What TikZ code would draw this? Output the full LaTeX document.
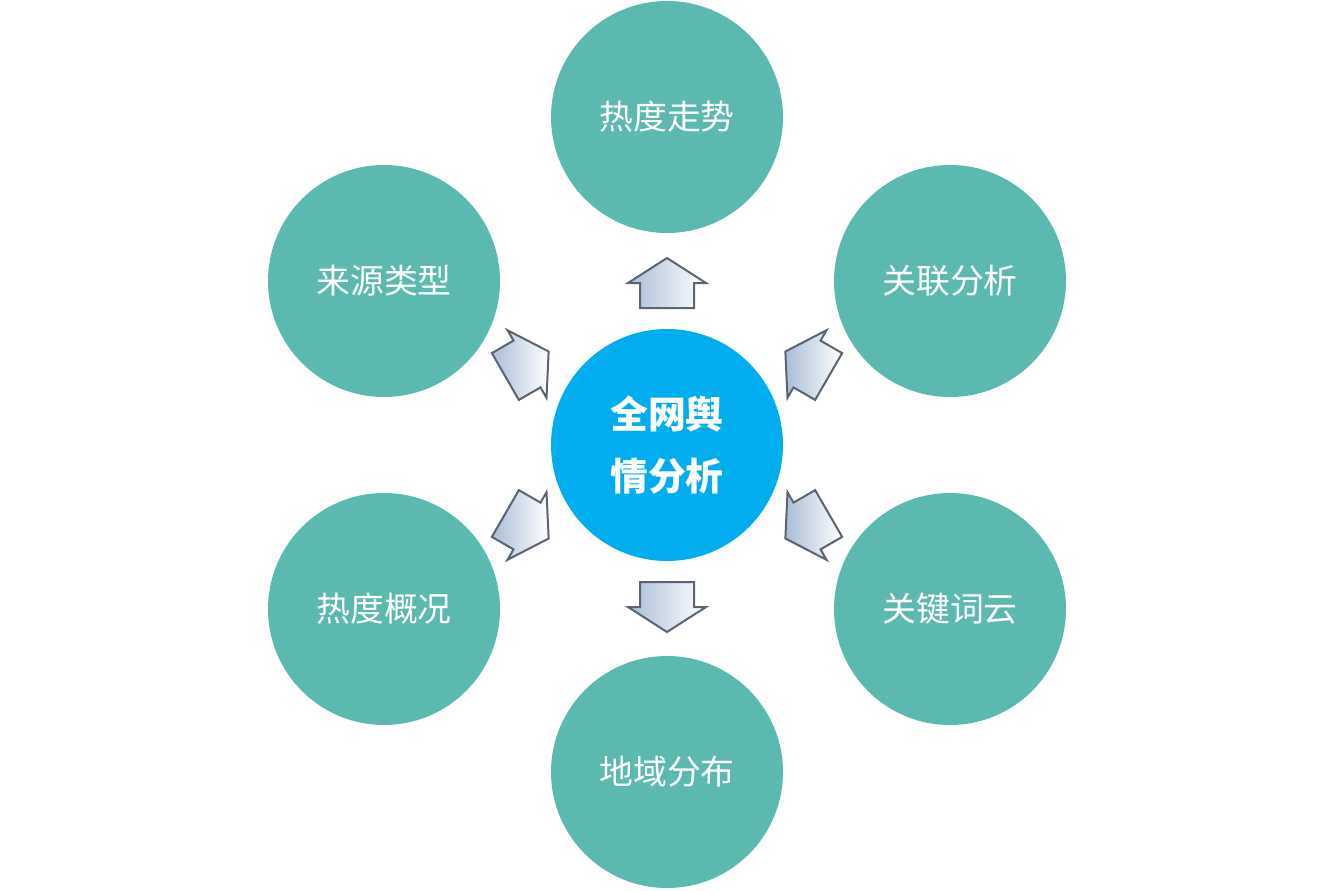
\documentclass[tikz,border=0pt]{standalone}
\usepackage{fontspec}
\setmainfont{Noto Sans CJK SC}
\definecolor{tealc}{HTML}{5BB9B0}
\definecolor{hubc}{HTML}{00AEEF}
\definecolor{arrowedge}{HTML}{5A6472}
\definecolor{arrowfill}{HTML}{A9BDD6}
\tikzset{
  topic/.style={circle,fill=tealc,minimum size=232bp,inner sep=0pt,text=white,font=\fontsize{34}{40}\selectfont},
  hub/.style={circle,fill=hubc,minimum size=232bp,inner sep=0pt,text=white,align=center,font=\fontsize{38}{62}\selectfont\bfseries},
}
\newcommand{\blockarrow}[2]{% position, angle
  \begin{scope}[shift={(#1)},rotate=#2]
    \shade[left color=arrowfill,right color=white,draw=arrowedge,line width=2bp,line join=miter]
      (0,25) -- (39,0) -- (27,0) -- (27,-25) -- (-27,-25) -- (-27,0) -- (-39,0) -- cycle;
  \end{scope}}
\begin{document}
\begin{tikzpicture}[x=1bp,y=-1bp]
\useasboundingbox (0,0) rectangle (1334,890);
%% hub and topics
\node[hub] (center) at (667,445) {全网舆\\情分析};
\node[topic] (trend)   at (667,117) {热度走势};
\node[topic] (related) at (950,281) {关联分析};
\node[topic] (cloud)   at (950,609) {关键词云};
\node[topic] (region)  at (667,772) {地域分布};
\node[topic] (overview) at (384,609) {热度概况};
\node[topic] (source)  at (384,281) {来源类型};
%% arrows
\blockarrow{667,283}{180}
\blockarrow{807,364}{240}
\blockarrow{807,526}{300}
\blockarrow{667,607}{0}
\blockarrow{527,526}{60}
\blockarrow{527,364}{120}
\end{tikzpicture}
\end{document}
